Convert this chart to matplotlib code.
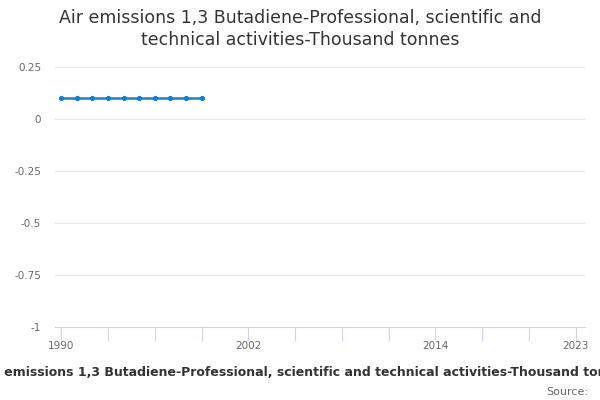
import matplotlib
matplotlib.use('Agg')
import matplotlib.pyplot as plt

# data
years = list(range(1990, 2024))
values = [0.1, 0.1, 0.1, 0.1, 0.1, 0.1, 0.1, 0.1, 0.1, 0.1]
yticks = [0.25, 0, -0.25, -0.5, -0.75, -1]
ytick_labels = ['0.25', '0', '-0.25', '-0.5', '-0.75', '-1']
xlabel_years = [1990, 2002, 2014, 2023]

title = 'Air emissions 1,3 Butadiene-Professional, scientific and\ntechnical activities-Thousand tonnes'
caption = 'Air emissions 1,3 Butadiene-Professional, scientific and technical activities-Thousand tonnes'

fig = plt.figure(figsize=(6, 4), dpi=100)
ax = fig.add_axes([55/600, 1-327/400, 530/600, 260/400])

xs = list(range(len(values)))
ax.plot(xs, values, color='#1a7fc4', lw=1.8, marker='o', ms=2.8)

ax.set_xlim(-0.4, len(years) - 0.4)
ax.set_ylim(-1, 0.25)
ax.set_yticks(yticks)
ax.set_yticklabels(ytick_labels)
ax.grid(axis='y', color='#e6e6e6', lw=0.8)
ax.set_axisbelow(True)

ax.set_xticks(range(0, len(years), 3))
ax.set_xticklabels([str(years[i]) if years[i] in xlabel_years else '' for i in range(0, len(years), 3)])

for s in ['top', 'right', 'left']:
    ax.spines[s].set_visible(False)
ax.spines['bottom'].set_color('#ccd6eb')
ax.tick_params(axis='y', length=0, labelsize=7.5, labelcolor='#666666', pad=10)
ax.tick_params(axis='x', direction='out', length=10, color='#ccd6eb', labelsize=7.5,
               labelcolor='#666666', pad=0)

fig.text(0.5, 1-29/400, title, ha='center', va='center', fontsize=12.5, color='#333333', linespacing=1.3)
fig.text(306/600, 1-373/400, caption, ha='center', va='center', fontsize=9, fontweight='bold', color='#333333')
fig.text(588/600, 1-392/400, 'Source:', ha='right', va='center', fontsize=8, color='#666666')

fig.savefig('out.png', dpi=100)
